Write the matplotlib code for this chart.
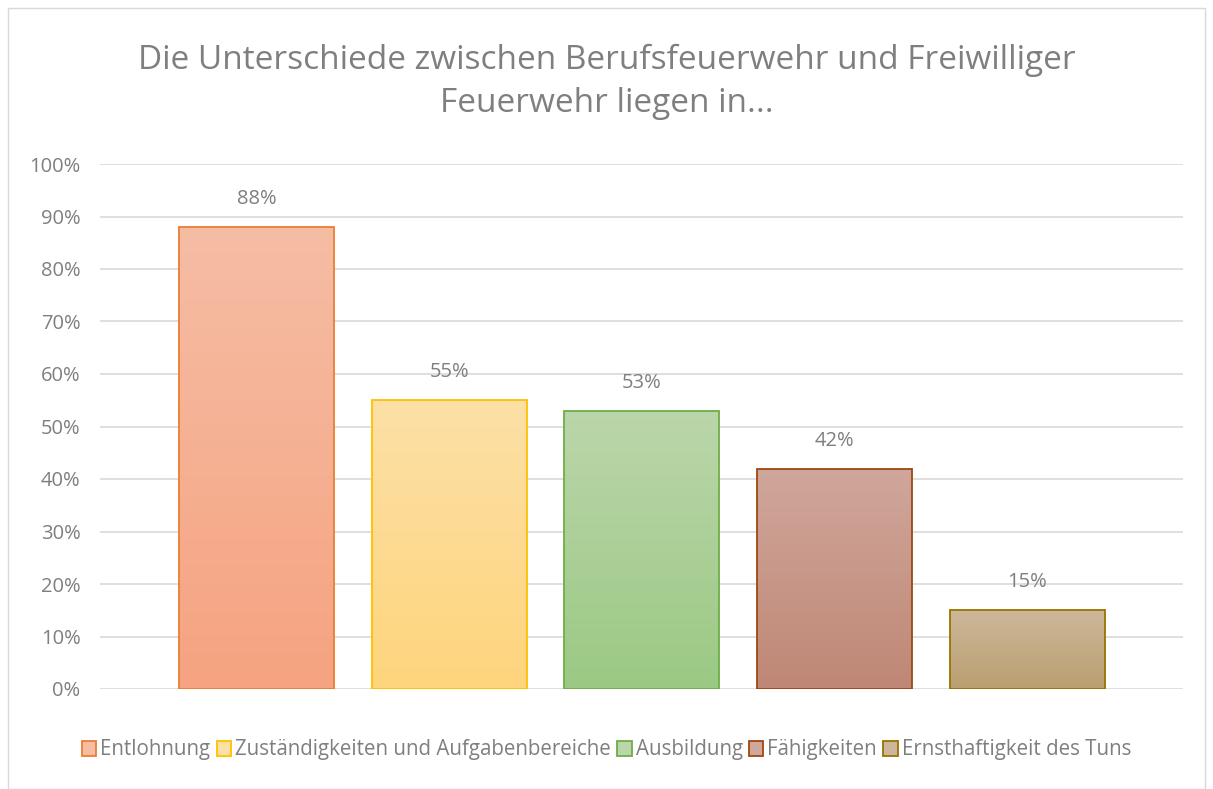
import numpy as np
import matplotlib.pyplot as plt
from matplotlib.colors import LinearSegmentedColormap
from matplotlib.patches import Patch, Rectangle

plt.rcParams['font.family'] = ['Open Sans', 'DejaVu Sans']

# data
labels = ['Entlohnung', 'Zuständigkeiten und Aufgabenbereiche', 'Ausbildung',
          'Fähigkeiten', 'Ernsthaftigkeit des Tuns']
values = [0.88, 0.55, 0.53, 0.42, 0.15]
top_colors = ['#F6BDA5', '#FCE0A6', '#BBD6AA', '#D0A79C', '#CCB79A']
bottom_colors = ['#F5A380', '#FFD57D', '#9BC984', '#BF8775', '#BA9F6F']
edge_colors = ['#ED7D31', '#FFC000', '#70AD47', '#9E480E', '#997300']
yticks = np.arange(0, 1.01, 0.1)

grey = '#7F7F7F'

fig = plt.figure(figsize=(12.13, 7.89), dpi=100)
fig.patches.append(Rectangle((8 / 1213, 0), 1197 / 1213, 1 - 8 / 789,
                             transform=fig.transFigure, fill=False,
                             edgecolor='#D9D9D9', linewidth=1))
ax = fig.add_axes([100 / 1213, 1 - 689 / 789, 1083 / 1213, 525 / 789])

x = np.arange(len(values))
width = 0.805
bars = ax.bar(x, values, width=width, color='none', edgecolor=edge_colors,
              linewidth=1.3, zorder=3)

# gradient fill inside each bar
for b, c_top, c_bot in zip(bars, top_colors, bottom_colors):
    cmap = LinearSegmentedColormap.from_list('g', [c_bot, c_top])
    grad = np.linspace(0, 1, 256).reshape(-1, 1)
    im = ax.imshow(grad, cmap=cmap, origin='lower', aspect='auto',
                   extent=[b.get_x(), b.get_x() + b.get_width(), 0, b.get_height()],
                   zorder=2)
    im.set_clip_path(b)

for xi, v in zip(x, values):
    ax.text(xi, v + 0.034, f'{v * 100:.0f}%', ha='center', va='bottom',
            fontsize=14.5, color=grey)

ax.set_xlim(-0.815, 4.81)
ax.set_ylim(0, 1)
ax.set_yticks(yticks)
ax.set_yticklabels([f'{t * 100:.0f}%' for t in yticks], fontsize=14.5, color=grey)
ax.set_xticks([])
ax.grid(axis='y', color='#D9D9D9', linewidth=1.2, zorder=0)
ax.tick_params(axis='y', length=0, pad=14)
for s in ax.spines.values():
    s.set_visible(False)

fig.text(0.5, 1 - 60 / 789, 'Die Unterschiede zwischen Berufsfeuerwehr und Freiwilliger',
         ha='center', va='center', fontsize=24, color=grey)
fig.text(0.5, 1 - 103 / 789, 'Feuerwehr liegen in...',
         ha='center', va='center', fontsize=24, color=grey)

handles = [Patch(facecolor=t, edgecolor=e, linewidth=1.3)
           for t, e in zip(top_colors, edge_colors)]
fig.legend(handles, labels, loc='center', bbox_to_anchor=(0.5, 1 - 750 / 789),
           ncol=5, frameon=False, fontsize=14.8, labelcolor=grey,
           handlelength=0.7, handleheight=0.7, handletextpad=0.2,
           columnspacing=0.3)

fig.savefig('out.png', dpi=100)
